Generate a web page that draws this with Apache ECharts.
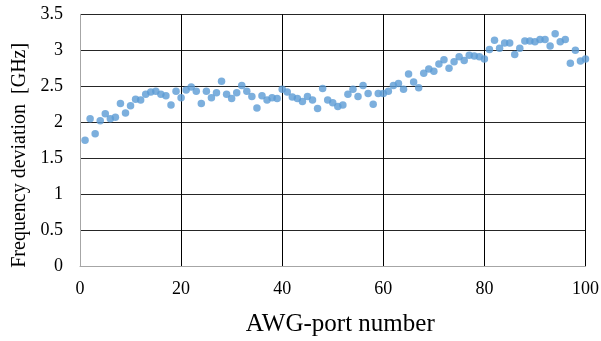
<!DOCTYPE html>
<html>
<head>
<meta charset="utf-8">
<script src="https://cdn.jsdelivr.net/npm/echarts@6/dist/echarts.min.js"></script>
<style>
  html, body { margin: 0; padding: 0; background: #fff; }
  #chart { width: 601px; height: 341px; }
</style>
</head>
<body>
<div id="chart"></div>
<script>
// AWG port index and measured frequency deviation (GHz)
const ports = [];
for (let p = 1; p <= 100; p++) ports.push(p);

const deviationGHz = [
  1.75, 2.05, 1.84, 2.02, 2.12, 2.05, 2.07, 2.26, 2.13, 2.23,
  2.32, 2.31, 2.39, 2.42, 2.43, 2.39, 2.37, 2.24, 2.43, 2.34,
  2.45, 2.49, 2.43, 2.26, 2.43, 2.34, 2.41, 2.57, 2.39, 2.33,
  2.41, 2.51, 2.43, 2.36, 2.20, 2.37, 2.31, 2.34, 2.33, 2.46,
  2.42, 2.35, 2.33, 2.29, 2.36, 2.31, 2.19, 2.47, 2.31, 2.27,
  2.22, 2.24, 2.39, 2.46, 2.36, 2.51, 2.40, 2.25, 2.40, 2.40,
  2.43, 2.51, 2.54, 2.46, 2.67, 2.56, 2.48, 2.68, 2.74, 2.71,
  2.81, 2.87, 2.75, 2.84, 2.91, 2.86, 2.93, 2.92, 2.91, 2.88,
  3.01, 3.14, 3.03, 3.10, 3.10, 2.94, 3.03, 3.13, 3.13, 3.12,
  3.15, 3.15, 3.06, 3.23, 3.12, 3.15, 2.82, 3.00, 2.85, 2.88
];

const xTitle = 'AWG-port number';
const yTitle = 'Frequency deviation  [GHz]';

const points = ports.map((p, i) => [p, deviationGHz[i]]);

const serif = '"Liberation Serif", "Times New Roman", serif';

const chart = echarts.init(document.getElementById('chart'), null, { renderer: 'canvas' });
chart.setOption({
  animation: false,
  backgroundColor: '#ffffff',
  grid: {
    left: 80, right: 15.5, top: 14.3, bottom: 74.7,
    containLabel: false,
    outerBoundsMode: 'none'
  },
  xAxis: {
    type: 'value',
    min: 0, max: 100, interval: 20,
    name: xTitle,
    nameLocation: 'middle',
    nameGap: 46,
    // nudge the title a little to the right of the plot centre
    nameTextStyle: { fontFamily: serif, fontSize: 25, color: '#000', padding: [0, 0, 0, 15] },
    axisLine: { show: true, lineStyle: { color: '#a6a6a6', width: 1 } },
    axisTick: { show: false },
    axisLabel: { fontFamily: serif, fontSize: 18, color: '#000', margin: 14 },
    splitLine: { show: true, showMinLine: false, lineStyle: { color: '#000', width: 1 } }
  },
  yAxis: {
    type: 'value',
    min: 0, max: 3.5, interval: 0.5,
    name: yTitle,
    nameLocation: 'middle',
    nameGap: 50,
    // shift the rotated title slightly toward the bottom of the axis
    nameTextStyle: { fontFamily: serif, fontSize: 20, color: '#000', padding: [0, 30, 0, 0] },
    axisLine: { show: true, lineStyle: { color: '#a6a6a6', width: 1 } },
    axisTick: { show: false },
    axisLabel: { fontFamily: serif, fontSize: 18, color: '#000', margin: 17 },
    splitLine: { show: true, showMinLine: false, lineStyle: { color: '#262626', width: 1 } }
  },
  series: [{
    type: 'scatter',
    data: points,
    symbol: 'circle',
    symbolSize: 7.5,
    itemStyle: { color: '#5b9bd5' }
  }]
});
</script>
</body>
</html>
